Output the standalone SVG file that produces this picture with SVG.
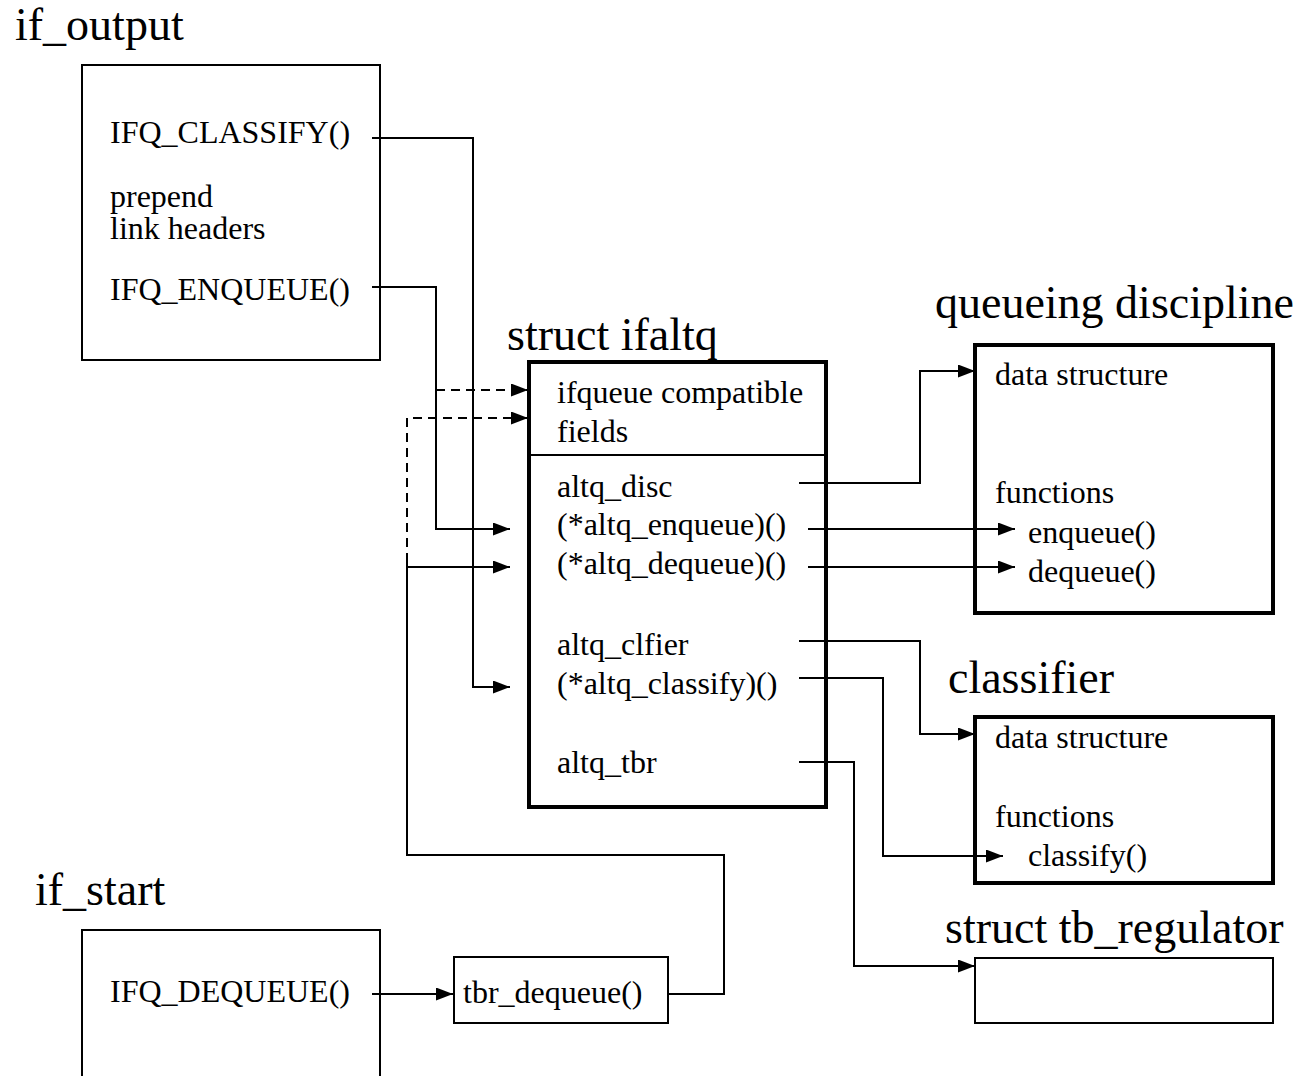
<svg xmlns="http://www.w3.org/2000/svg" width="1304" height="1076" viewBox="0 0 1304 1076">
<style>
text{font-family:"Liberation Serif","Times New Roman",serif;fill:#000}
.t{font-size:46px}
.s{font-size:32px}
.box{fill:#fff;stroke:#000;stroke-width:2}
.thick{fill:#fff;stroke:#000;stroke-width:4}
.c{fill:none;stroke:#000;stroke-width:2}
.d{fill:none;stroke:#000;stroke-width:2;stroke-dasharray:9 6}
</style>
<defs>
<marker id="ah" markerUnits="userSpaceOnUse" markerWidth="18" markerHeight="14" refX="17" refY="6.5" orient="auto">
<path d="M0,0 L17,6.5 L0,13 Z" fill="#000"/>
</marker>
</defs>
<rect width="1304" height="1076" fill="#fff"/>

<g id="if_output">
<text class="t" x="15" y="40">if_output</text>
<rect class="box" x="82" y="65" width="298" height="295"/>
<text class="s" x="110" y="143">IFQ_CLASSIFY()</text>
<text class="s" x="110" y="207">prepend</text>
<text class="s" x="110" y="239">link headers</text>
<text class="s" x="110" y="300">IFQ_ENQUEUE()</text>
</g>

<g id="if_start">
<text class="t" x="35" y="905">if_start</text>
<rect class="box" x="82" y="930" width="298" height="160"/>
<text class="s" x="110" y="1002">IFQ_DEQUEUE()</text>
</g>

<g id="tbr_dequeue">
<rect class="box" x="454" y="957" width="214" height="66"/>
<text class="s" x="463" y="1003">tbr_dequeue()</text>
</g>

<g id="ifaltq">
<text class="t" x="507" y="350">struct ifaltq</text>
<rect class="thick" x="529" y="362" width="297" height="445"/>
<line x1="529" y1="455" x2="826" y2="455" stroke="#000" stroke-width="2"/>
<text class="s" x="557" y="403">ifqueue compatible</text>
<text class="s" x="557" y="442">fields</text>
<text class="s" x="557" y="497">altq_disc</text>
<text class="s" x="557" y="535">(*altq_enqueue)()</text>
<text class="s" x="557" y="574">(*altq_dequeue)()</text>
<text class="s" x="557" y="655">altq_clfier</text>
<text class="s" x="557" y="694">(*altq_classify)()</text>
<text class="s" x="557" y="773">altq_tbr</text>
</g>

<g id="qdisc">
<text class="t" x="935" y="318">queueing discipline</text>
<rect class="thick" x="975" y="345" width="298" height="268"/>
<text class="s" x="995" y="385">data structure</text>
<text class="s" x="995" y="503">functions</text>
<text class="s" x="1028" y="543">enqueue()</text>
<text class="s" x="1028" y="582">dequeue()</text>
</g>

<g id="classifier">
<text class="t" x="948" y="693">classifier</text>
<rect class="thick" x="975" y="717" width="298" height="166"/>
<text class="s" x="995" y="748">data structure</text>
<text class="s" x="995" y="827">functions</text>
<text class="s" x="1028" y="866">classify()</text>
</g>

<g id="tb_regulator">
<text class="t" x="945" y="943">struct tb_regulator</text>
<rect class="box" x="975" y="958" width="298" height="65"/>
</g>

<g id="connectors">
<path class="c" d="M372,138 H473 V687 H510" marker-end="url(#ah)"/>
<path class="c" d="M372,287 H436 V529 H510" marker-end="url(#ah)"/>
<path class="d" d="M436,390 H528" marker-end="url(#ah)"/>
<path class="d" d="M407,562 V418 H528" marker-end="url(#ah)"/>
<path class="c" d="M407,562 V855 H724 V994 H668"/>
<path class="c" d="M407,567 H510" marker-end="url(#ah)"/>
<path class="c" d="M372,994 H453" marker-end="url(#ah)"/>
<path class="c" d="M799,483 H920 V371 H975" marker-end="url(#ah)"/>
<path class="c" d="M808,529 H1015" marker-end="url(#ah)"/>
<path class="c" d="M808,567 H1015" marker-end="url(#ah)"/>
<path class="c" d="M799,641 H920 V734 H975" marker-end="url(#ah)"/>
<path class="c" d="M799,678 H883 V856 H1003" marker-end="url(#ah)"/>
<path class="c" d="M799,762 H854 V966 H975" marker-end="url(#ah)"/>
</g>
</svg>
